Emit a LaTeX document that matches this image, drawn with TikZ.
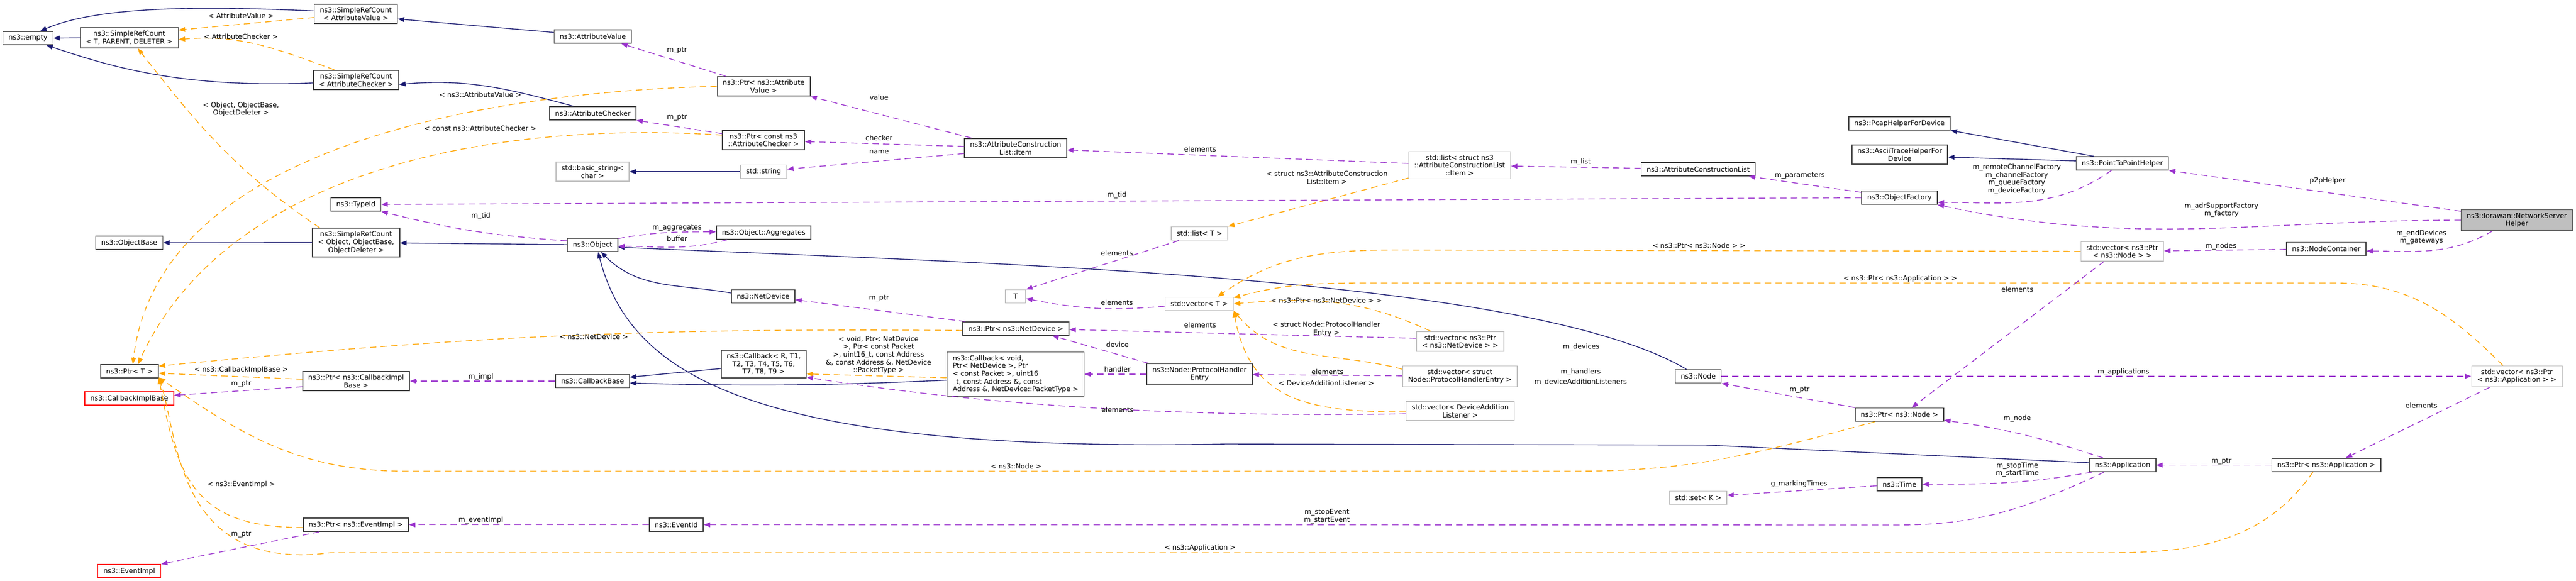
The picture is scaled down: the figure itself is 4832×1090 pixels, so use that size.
\documentclass[tikz,border=0pt]{standalone}
\usepackage{fontspec}
\setmainfont{DejaVu Sans}
\usetikzlibrary{arrows.meta}

\definecolor{azul}{HTML}{191970}
\definecolor{roxo}{HTML}{9A32CD}
\definecolor{laranja}{HTML}{FFA500}
\definecolor{cinza}{HTML}{BFBFBF}

\begin{document}
\begin{tikzpicture}[x=0.25pt, y=0.25pt, >={Triangle[length=3pt,width=2.25pt]},
    every node/.style={font=\fontsize{3.225pt}{3.65pt}\selectfont},
    cls/.style={draw=black!75, line width=0.4pt, fill=white, inner xsep=2.6pt, inner ysep=1.5pt, minimum height=6.25pt, align=center},
    ext/.style={cls, draw=cinza},
    trunc/.style={cls, draw=red},
    focus/.style={cls, fill=cinza},
    lbl/.style={inner sep=0pt, align=center},
    inh/.style={draw=azul, line width=0.35pt, ->},
    usage/.style={draw=roxo, line width=0.35pt, dash pattern=on 3pt off 2pt, ->},
    tmpl/.style={draw=laranja, line width=0.35pt, dash pattern=on 3pt off 2pt, ->}]

    \path[use as bounding box, fill=white] (0,0) rectangle (4832,-1090);

    % Classes da esquerda
    \node[cls] (empty) at (52.5,-71.5) {ns3::empty};
    \node[cls] (srcTPD) at (242.5,-71) {ns3::SimpleRefCount\\< T, PARENT, DELETER >};
    \node[cls] (objBase) at (242.5,-455.5) {ns3::ObjectBase};
    \node[cls] (ptrT) at (243,-696.5) {ns3::Ptr< T >};
    \node[trunc] (cbImplBase) at (242.5,-747.5) {ns3::CallbackImplBase};
    \node[trunc] (eventImpl) at (242.5,-1071.5) {ns3::EventImpl};

    \node[cls] (srcAV) at (667.5,-26) {ns3::SimpleRefCount\\< AttributeValue >};
    \node[cls] (srcAC) at (668,-150) {ns3::SimpleRefCount\\< AttributeChecker >};
    \node[cls] (typeId) at (667.5,-383.5) {ns3::TypeId};
    \node[cls] (srcObj) at (668,-455) {ns3::SimpleRefCount\\< Object, ObjectBase,\\ObjectDeleter >};
    \node[cls] (ptrCbImpl) at (668,-715) {ns3::Ptr< ns3::CallbackImpl\\Base >};
    \node[cls] (ptrEvImpl) at (667.5,-984.5) {ns3::Ptr< ns3::EventImpl >};

    \node[cls] (attrValue) at (1112,-68.5) {ns3::AttributeValue};
    \node[cls] (attrChecker) at (1112,-212.5) {ns3::AttributeChecker};
    \node[ext] (basicStr) at (1111.5,-322) {std::basic\_string<\\char >};
    \node[cls] (object) at (1111.5,-459.5) {ns3::Object};
    \node[cls] (cbBase) at (1111.5,-715) {ns3::CallbackBase};
    \node[cls] (eventId) at (1268.5,-984.5) {ns3::EventId};

    \node[cls] (ptrAV) at (1432.5,-162) {ns3::Ptr< ns3::Attribute\\Value >};
    \node[cls] (ptrAC) at (1432,-263) {ns3::Ptr< const ns3\\::AttributeChecker >};
    \node[ext] (stdStr) at (1432.5,-322) {std::string};
    \node[cls] (aggr) at (1432.5,-436.5) {ns3::Object::Aggregates};
    \node[cls] (netDev) at (1431.5,-556) {ns3::NetDevice};
    \node[cls] (cbR) at (1432.5,-683) {ns3::Callback< R, T1,\\T2, T3, T4, T5, T6,\\T7, T8, T9 >};

    % Colunas do meio
    \node[cls] (acItem) at (1905,-278) {ns3::AttributeConstruction\\List::Item};
    \node[ext, minimum width=9.5pt] (tT) at (1905,-556) {T};
    \node[cls] (ptrND) at (1905.5,-616.5) {ns3::Ptr< ns3::NetDevice >};
    \node[cls, align=left] (cbVoid) at (1905,-702) {ns3::Callback< void,\\Ptr< NetDevice >, Ptr\\< const Packet >, uint16\\\_t, const Address \&, const\\Address \&, NetDevice::PacketType >};

    \node[ext] (listT) at (2250,-438) {std::list< T >};
    \node[ext] (vecT) at (2249.5,-570) {std::vector< T >};
    \node[cls] (phe) at (2250,-702) {ns3::Node::ProtocolHandler\\Entry};

    \node[ext] (listItem) at (2738,-310) {std::list< struct ns3\\::AttributeConstructionList\\::Item >};
    \node[ext] (vecPtrND) at (2739,-640.5) {std::vector< ns3::Ptr\\< ns3::NetDevice > >};
    \node[ext] (vecPHE) at (2738.5,-706) {std::vector< struct\\Node::ProtocolHandlerEntry >};
    \node[ext] (vecDAL) at (2739,-771) {std::vector< DeviceAddition\\Listener >};

    \node[cls] (acList) at (3185.5,-317.5) {ns3::AttributeConstructionList};
    \node[cls] (nsNode) at (3185.5,-706) {ns3::Node};
    \node[ext] (setK) at (3185.5,-934) {std::set< K >};

    % Colunas da direita
    \node[cls] (pcap) at (3563,-231.5) {ns3::PcapHelperForDevice};
    \node[cls] (ascii) at (3563.5,-290) {ns3::AsciiTraceHelperFor\\Device};
    \node[cls] (objFactory) at (3563,-371) {ns3::ObjectFactory};
    \node[cls] (ptrNode) at (3563,-778) {ns3::Ptr< ns3::Node >};
    \node[cls] (nsTime) at (3563,-908.5) {ns3::Time};

    \node[cls] (p2p) at (3981,-306.5) {ns3::PointToPointHelper};
    \node[ext] (vecPtrNode) at (3981,-471.5) {std::vector< ns3::Ptr\\< ns3::Node > >};
    \node[cls] (app) at (3981.5,-872.5) {ns3::Application};

    \node[cls] (nodeCont) at (4363.5,-467) {ns3::NodeContainer};
    \node[cls] (ptrApp) at (4363.5,-872.5) {ns3::Ptr< ns3::Application >};
    \node[focus] (nsHelper) at (4721,-413) {ns3::lorawan::NetworkServer\\Helper};
    \node[ext] (vecPtrApp) at (4721,-706) {std::vector< ns3::Ptr\\< ns3::Application > >};

    % Pontos de passagem
    \coordinate (appBendA) at (3200,-835);
    \coordinate (appBendB) at (2300,-833);
    \coordinate (nodeBendA) at (2960,-884);
    \coordinate (nodeBendB) at (760,-884);
    \coordinate (appBendC) at (3960,-1037);
    \coordinate (appBendD) at (620,-1037);
    \coordinate (nodeVecBend) at (2620,-469);
    \coordinate (appVecBend) at (4382,-531);
    \coordinate (appVecBend2) at (2560,-531);
    \coordinate (evBend) at (3560,-985);

    % Heranca
    \draw[inh] (srcTPD.west) -- (empty.east);
    \draw[inh] (srcAV.176) .. controls +(-230,10) and +(105,45) .. (empty.30);
    \draw[inh] (srcAC.184) .. controls +(-250,-10) and +(120,-40) .. (empty.339);
    \draw[inh] (attrValue.174) -- (srcAV.353);
    \draw[inh] (attrChecker.160) to[out=165,in=5] (srcAC.354);
    \draw[inh] (stdStr) -- (basicStr);
    \draw[inh] (srcObj) -- (objBase);
    \draw[inh] (object) -- (srcObj);
    \draw[inh] (nsNode.149) .. controls +(-300,176) and +(700,-31) .. (object.355);
    \draw[inh] (app.176) -- (appBendA) -- (appBendB) .. controls +(-900,-17) and +(59,-228) .. (object.308);
    \draw[inh] (netDev.174) to[out=170,in=-45] (object.320);
    \draw[inh] (cbR.186) -- (cbBase.6);
    \draw[inh] (cbVoid.185) to[bend left=2] (cbBase.357);
    \draw[inh] (p2p.166) -- (pcap.south east);
    \draw[inh] (p2p.177) -- (ascii.357);

    % Modelos
    \draw[tmpl] (srcAV.185) -- (srcTPD.9);
    \draw[tmpl] (srcAC.155) to[out=160,in=5] (srcTPD.358);
    \draw[tmpl] (srcObj.158) to[out=146,in=-52] (srcTPD.309);
    \draw[tmpl] (ptrAV.west) .. controls +(-395,-9) and +(49,420) .. (ptrT.65);
    \draw[tmpl] (ptrAC.173) .. controls +(-453,29) and +(162,354) .. (ptrT.40);
    \draw[tmpl] (ptrND.182) to[bend right=3] (ptrT.10);
    \draw[tmpl] (ptrCbImpl.178) -- (ptrT.356);
    \draw[tmpl] (ptrEvImpl.183) to[out=180,in=-80,looseness=1.3] (ptrT.348);
    \draw[tmpl] (ptrNode.196) to[out=195,in=0] (nodeBendA) -- (nodeBendB) to[out=180,in=-35] (ptrT.348);
    \draw[tmpl] (ptrApp.208) to[out=235,in=0] (appBendC) -- (appBendD) .. controls +(-290,-38) and +(37,-112) .. (ptrT.348);
    \draw[tmpl] (listItem.194) -- (listT.north east);
    \draw[tmpl] (vecPtrNode.west) -- (nodeVecBend) to[out=180,in=35] (vecT.21);
    \draw[tmpl] (vecPtrApp.142) to[out=135,in=0] (appVecBend) -- (appVecBend2) to[out=180,in=15] (vecT.10);
    \draw[tmpl] (vecPtrND.161) to[out=155,in=5] (vecT.east);
    \draw[tmpl] (vecPHE.173) to[out=165,in=-50] (vecT.south east);
    \draw[tmpl] (vecDAL.181) to[out=180,in=-80,looseness=1.2] (vecT.south east);
    \draw[tmpl] (cbVoid.183) -- (cbR.347);

    % Uso
    \draw[usage] (ptrAV.165) -- (attrValue.346);
    \draw[usage] (ptrAC.171) -- (attrChecker.south east);
    \draw[usage] (acItem.167) -- (ptrAV.south east);
    \draw[usage] (acItem.178) -- (ptrAC.358);
    \draw[usage] (acItem.186) -- (stdStr.6);
    \draw[usage] (listItem.178) -- (acItem.358);
    \draw[usage] (acList) -- (listItem);
    \draw[usage] (objFactory.172) -- (acList.352);
    \draw[usage] (objFactory.west) -- (typeId.east);
    \draw[usage] (object.171) to[bend left=5] (typeId.south east);
    \draw[usage] (object.14) to[out=10,in=180] (aggr.179);
    \draw[usage] (aggr.191) to[out=195,in=0] (object.357);
    \draw[usage] (ptrND.172) -- (netDev.354);
    \draw[usage] (phe.168) -- (ptrND.349);
    \draw[usage] (phe) -- (cbVoid);
    \draw[usage] (vecPtrND.176) -- (ptrND.359);
    \draw[usage] (vecPHE) -- (phe);
    \draw[usage] (vecDAL.183) .. controls +(-536,-9) and +(235,-37) .. (cbR.343);
    \draw[usage] (cbBase) -- (ptrCbImpl);
    \draw[usage] (ptrCbImpl.186) -- (cbImplBase.4);
    \draw[usage] (eventId) -- (ptrEvImpl);
    \draw[usage] (ptrEvImpl.191) -- (eventImpl.north east);
    \draw[usage] (app.201) to[out=205,in=0] (evBend) -- (eventId.east);
    \draw[usage] (app.193) to[out=190,in=0] (nsTime.east);
    \draw[usage] (nsTime.184) -- (setK.5);
    \draw[usage] (app.160) to[bend right=5] (ptrNode.353);
    \draw[usage] (ptrNode.north west) -- (nsNode.south east);
    \draw[usage] (vecPtrNode.209) -- (ptrNode.30);
    \draw[usage] (nsNode) -- (vecPtrApp);
    \draw[usage] (vecPtrApp.202) -- (ptrApp.20);
    \draw[usage] (ptrApp) -- (app);
    \draw[usage] (p2p.213) to[out=215,in=0] (objFactory.353);
    \draw[usage] (nsHelper.west) to[out=180,in=-12] (objFactory.south east);
    \draw[usage] (nsHelper.171) -- (p2p.south east);
    \draw[usage] (nsHelper.204) to[out=210,in=0] (nodeCont.357);
    \draw[usage] (nodeCont) -- (vecPtrNode);
    \draw[usage] (listT.199) -- (tT.north east);
    \draw[usage] (vecT.184) to[bend left=8] (tT.348);

    % Rotulos das arestas
    \node[lbl] (tAV) at (452,-29.5) {< AttributeValue >};
    \node[lbl] (tAC) at (452,-68.5) {< AttributeChecker >};
    \node[lbl] (tObj) at (452,-205) {< Object, ObjectBase,\\ObjectDeleter >};
    \node[lbl] (tPtrAV) at (901,-177.6) {< ns3::AttributeValue >};
    \node[lbl] (tPtrAC) at (901,-241) {< const ns3::AttributeChecker >};
    \node[lbl] (mPtrAV) at (1270,-94) {m\_ptr};
    \node[lbl] (mPtrAC) at (1270,-220) {m\_ptr};
    \node[lbl] (mValue) at (1649,-182.5) {value};
    \node[lbl] (mChecker) at (1649,-258.6) {checker};
    \node[lbl] (mName) at (1649,-285) {name};
    \node[lbl] (eItem) at (2251,-280) {elements};
    \node[lbl] (tItem) at (2489,-333) {< struct ns3::AttributeConstruction\\List::Item >};
    \node[lbl] (mList) at (2965,-304.5) {m\_list};
    \node[lbl] (mParam) at (3376,-329.5) {m\_parameters};
    \node[lbl] (mTidF) at (2095,-366) {m\_tid};
    \node[lbl] (mTidO) at (902,-405) {m\_tid};
    \node[lbl] (mAggr) at (1270,-427) {m\_aggregates};
    \node[lbl] (mBuffer) at (1270,-448) {buffer};
    \node[lbl] (eListT) at (2095,-474.5) {elements};
    \node[lbl] (tVecNode) at (3187,-460.6) {< ns3::Ptr< ns3::Node > >};
    \node[lbl] (tVecApp) at (3564.5,-522.5) {< ns3::Ptr< ns3::Application > >};
    \node[lbl] (mFactories) at (3783,-336) {m\_remoteChannelFactory\\m\_channelFactory\\m\_queueFactory\\m\_deviceFactory};
    \node[lbl] (mP2p) at (4366,-339) {p2pHelper};
    \node[lbl] (mAdr) at (4167,-394) {m\_adrSupportFactory\\m\_factory};
    \node[lbl] (mEnd) at (4542,-445) {m\_endDevices\\m\_gateways};
    \node[lbl] (mNodes) at (4166,-462) {m\_nodes};
    \node[lbl] (eVecNode) at (3784,-543) {elements};
    \node[lbl] (eVecT) at (2095,-568) {elements};
    \node[lbl] (tVecND) at (2488,-564) {< ns3::Ptr< ns3::NetDevice > >};
    \node[lbl] (eVecND) at (2251,-610) {elements};
    \node[lbl] (tVecPHE) at (2488,-617.5) {< struct Node::ProtocolHandler\\Entry >};
    \node[lbl] (mDevice) at (2096,-646.5) {device};
    \node[lbl] (mDevices) at (2966,-650.7) {m\_devices};
    \node[lbl] (tNetDev) at (1114,-632) {< ns3::NetDevice >};
    \node[lbl] (mPtrND) at (1649,-559) {m\_ptr};
    \node[lbl] (tCbVoid) at (1648,-666) {< void, Ptr< NetDevice\\>, Ptr< const Packet\\>, uint16\_t, const Address\\\&, const Address \&, NetDevice\\::PacketType >};
    \node[lbl] (mHandler) at (2096,-693) {handler};
    \node[lbl] (eVecPHE) at (2490,-698) {elements};
    \node[lbl] (mHandlers) at (2965,-698) {m\_handlers};
    \node[lbl] (mListeners) at (2965,-717.4) {m\_deviceAdditionListeners};
    \node[lbl] (tVecDAL) at (2488,-719) {< DeviceAdditionListener >};
    \node[lbl] (mApps) at (3983,-698) {m\_applications};
    \node[lbl] (eVecDAL) at (2096,-768.5) {elements};
    \node[lbl] (tCbImpl) at (452.5,-694) {< ns3::CallbackImplBase >};
    \node[lbl] (mPtrCb) at (452.5,-720.5) {m\_ptr};
    \node[lbl] (mImpl) at (902,-707) {m\_impl};
    \node[lbl] (mPtrNode) at (3375.6,-731) {m\_ptr};
    \node[lbl] (eVecApp) at (4542,-760.5) {elements};
    \node[lbl] (mNode) at (3784,-785.5) {m\_node};
    \node[lbl] (tNode) at (1906,-874.5) {< ns3::Node >};
    \node[lbl] (mTimes) at (3784,-881) {m\_stopTime\\m\_startTime};
    \node[lbl] (mPtrApp) at (4167,-865) {m\_ptr};
    \node[lbl] (mMarking) at (3374.6,-908) {g\_markingTimes};
    \node[lbl] (tEvImpl) at (452.5,-909) {< ns3::EventImpl >};
    \node[lbl] (mEvents) at (2489,-969) {m\_stopEvent\\m\_startEvent};
    \node[lbl] (mEvImpl) at (902,-976) {m\_eventImpl};
    \node[lbl] (mPtrEv) at (452.5,-1002) {m\_ptr};
    \node[lbl] (tApp) at (2251,-1028) {< ns3::Application >};
\end{tikzpicture}
\end{document}
